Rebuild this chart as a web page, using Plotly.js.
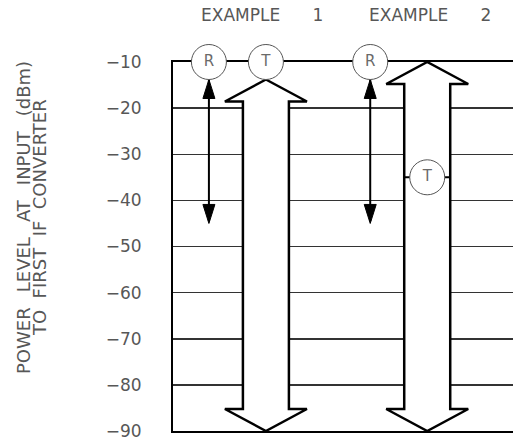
<!DOCTYPE html>
<html><head><meta charset="utf-8">
<script src="https://cdn.plot.ly/plotly-3.0.1.min.js"></script>
<style>html,body{margin:0;padding:0;background:#fff;overflow:hidden}</style>
</head><body>
<div id="chart" style="width:513px;height:442px"></div>
<script>
// ---- data ----
const NB = '\u00A0';
const exampleNames = ['EXAMPLE' + NB.repeat(6) + '1', 'EXAMPLE' + NB.repeat(6) + '2'];
const markerLabels = ['R', 'T', 'R', 'T'];
const markerExample = [0, 0, 1, 1];
const markerLevels = [-10, -10, -10, -35];
const refArrowTop = [-10, -10];      // R (reference) range, dBm
const refArrowBottom = [-45, -45];
const tArrowTop = [-10, -10];        // T (total) range, dBm
const tArrowBottom = [-90, -90];
const tickVals = [-90, -80, -70, -60, -50, -40, -30, -20, -10];
const tickLabels = tickVals.map(v => '\u2212' + Math.abs(v));
const yTitle1 = ['POWER', 'LEVEL', 'AT', 'INPUT', '(dBm)'].join(NB.repeat(2) + '\u2009');
const yTitle2 = ['TO', 'FIRST', 'IF', 'CONVERTER'].join(NB.repeat(2));

// ---- layout constants ----
const M = {l: 173, r: 0, t: 62, b: 11};
const W = 513, H = 442;
const plotW = W - M.l - M.r, plotH = H - M.t - M.b;
const xRange = [0, 5.965];
const yRange = [-90, -10];
const colR = [0.63, 3.46];   // column of R markers per example
const colT = [1.63, 4.46];   // column of T markers per example
const labelShift = [-4, 3];
const pxX = plotW / (xRange[1] - xRange[0]);
const pxY = plotH / (yRange[1] - yRange[0]);
const circlePx = 35;
const cR = (circlePx / 2) / pxY;
const FONT = 'DejaVu Sans, Arial, sans-serif';
const TXT = '#575757';

const traces = [];
// big T arrows
const headHalf = 41 / pxX, shaftHalf = 23 / pxX, headLen = 22 / pxY;
for (let i = 0; i < 2; i++) {
  const xc = colT[i];
  const tIdx = markerLabels.findIndex((l, k) => l === 'T' && markerExample[k] === i);
  let top = tArrowTop[i];
  if (markerLevels[tIdx] === top) top -= cR;
  const bot = tArrowBottom[i];
  const xs = [xc, xc + headHalf, xc + shaftHalf, xc + shaftHalf, xc + headHalf, xc,
              xc - headHalf, xc - shaftHalf, xc - shaftHalf, xc - headHalf, xc];
  const ys = [top, top - headLen, top - headLen, bot + headLen, bot + headLen, bot,
              bot + headLen, bot + headLen, top - headLen, top - headLen, top];
  traces.push({x: xs, y: ys, mode: 'lines', fill: 'toself', fillcolor: '#fff',
    line: {color: '#000', width: 2.5}, hoverinfo: 'skip', showlegend: false});
  if (markerLevels[tIdx] !== tArrowTop[i]) {
    traces.push({x: [xc - shaftHalf, xc + shaftHalf], y: [markerLevels[tIdx], markerLevels[tIdx]],
      mode: 'lines', line: {color: '#000', width: 2}, hoverinfo: 'skip', showlegend: false});
  }
}
// thin R arrows
const thHalf = 6 / pxX, thLen = 19 / pxY;
for (let i = 0; i < 2; i++) {
  const xc = colR[i];
  const top = refArrowTop[i] - cR, bot = refArrowBottom[i];
  traces.push({x: [xc, xc], y: [top + 0.5, bot + 0.5], mode: 'lines',
    line: {color: '#000', width: 2}, hoverinfo: 'skip', showlegend: false});
  traces.push({x: [xc, xc + thHalf, xc - thHalf, xc], y: [top, top - thLen, top - thLen, top],
    mode: 'lines', fill: 'toself', fillcolor: '#000', line: {color: '#000', width: 1},
    hoverinfo: 'skip', showlegend: false});
  traces.push({x: [xc, xc + thHalf, xc - thHalf, xc], y: [bot, bot + thLen, bot + thLen, bot],
    mode: 'lines', fill: 'toself', fillcolor: '#000', line: {color: '#000', width: 1},
    hoverinfo: 'skip', showlegend: false});
}
// circles
traces.push({
  x: markerLabels.map((l, k) => l === 'R' ? colR[markerExample[k]] : colT[markerExample[k]]),
  y: markerLevels, text: markerLabels, mode: 'markers+text', textposition: 'middle center',
  textfont: {family: FONT, size: 15, color: '#6a6a6a'},
  marker: {size: circlePx, color: '#fff', line: {color: '#555', width: 1}},
  hoverinfo: 'skip', showlegend: false, cliponaxis: false
});

const annotations = exampleNames.map((n, i) => ({
  text: n, x: colT[i], xref: 'x', xshift: labelShift[i], y: 1, yref: 'paper', yanchor: 'middle', yshift: 47,
  showarrow: false, font: {family: FONT, size: 17, color: TXT}
}));
annotations.push({text: yTitle1, textangle: -90, xref: 'paper', yref: 'paper',
  x: (23 - M.l) / plotW, y: (H - M.b - 218) / plotH, xanchor: 'center', yanchor: 'middle',
  showarrow: false, font: {family: FONT, size: 18, color: TXT}});
annotations.push({text: yTitle2, textangle: -90, xref: 'paper', yref: 'paper',
  x: (39 - M.l) / plotW, y: (H - M.b - 218) / plotH, xanchor: 'center', yanchor: 'middle',
  showarrow: false, font: {family: FONT, size: 18, color: TXT}});

const layout = {
  width: W, height: H, margin: M, paper_bgcolor: '#fff', plot_bgcolor: '#fff',
  showlegend: false,
  xaxis: {range: xRange, showgrid: false, zeroline: false, showticklabels: false, ticks: '',
    showline: true, mirror: true, linecolor: '#000', linewidth: 2, layer: 'below traces', fixedrange: true},
  yaxis: {range: yRange, tickvals: tickVals, ticktext: tickLabels, ticks: '', ticklabelstandoff: 26,
    tickfont: {family: FONT, size: 17, color: TXT}, showgrid: true, gridcolor: '#333', gridwidth: 1.5,
    zeroline: false, showline: true, linecolor: '#000', linewidth: 2, layer: 'below traces', fixedrange: true},
  annotations: annotations
};
Plotly.newPlot('chart', traces, layout, {staticPlot: true, displayModeBar: false});
</script>
</body></html>
